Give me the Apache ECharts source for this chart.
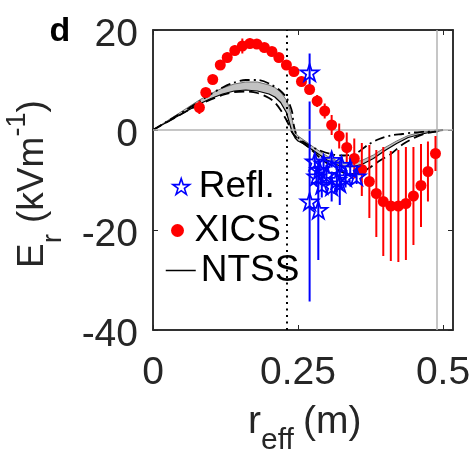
<!DOCTYPE html>
<html>
<head>
<meta charset="utf-8">
<script src="https://cdn.jsdelivr.net/npm/echarts@6/dist/echarts.min.js"></script>
<style>
  html, body { margin: 0; padding: 0; background: #fff; }
  #chart { width: 473px; height: 454px; }
</style>
</head>
<body>
<div id="chart"></div>
<script>
// ---- XICS: radius (m), Er (kV/m), error ----
const xicsR = [0.080, 0.091, 0.103, 0.116, 0.128, 0.141, 0.154, 0.167, 0.179, 0.192, 0.205,
  0.217, 0.230, 0.243, 0.256, 0.270, 0.283, 0.296, 0.308, 0.321, 0.334, 0.347, 0.360,
  0.373, 0.385, 0.397, 0.410, 0.423, 0.436, 0.449, 0.462, 0.474, 0.487];
const xicsEr = [4.5, 7.5, 10.1, 13.0, 14.5, 15.9, 16.8, 17.3, 17.2, 16.5, 15.7,
  14.5, 13.0, 11.7, 9.7, 8.1, 5.8, 3.8, 1.0, -1.2, -3.5, -5.7, -7.9,
  -10.3, -12.7, -14.3, -15.2, -15.2, -14.7, -13.2, -11.1, -8.3, -4.7];
const xicsErr = [1.3, 0.8, 0.8, 0.8, 1.0, 1.0, 1.5, 1.0, 1.0, 0.8, 0.8,
  0.8, 0.8, 1.0, 1.0, 1.0, 1.2, 1.5, 2.0, 2.5, 3.0, 4.0, 5.3,
  7.3, 8.7, 10.9, 11.0, 11.2, 11.3, 9.8, 8.3, 6.0, 3.5];

// ---- Reflectometry ----
const reflR = [0.270, 0.270, 0.285, 0.279, 0.294, 0.308, 0.325, 0.282, 0.299, 0.317,
  0.291, 0.308, 0.322, 0.340, 0.351, 0.287, 0.332];
const reflEr = [11.5, -14.3, -16.0, -6.3, -6.7, -6.0, -7.0, -9.3, -9.0, -10.0,
  -11.0, -11.3, -10.7, -7.7, -9.3, -8.0, -9.5];
const reflErr = [3.8, 20, 10, 1.5, 1.5, 1.5, 1.5, 2, 2, 2.5, 2.5, 3, 4.3, 1.5, 1.5, 2, 2];

// ---- NTSS: dash-dot run ----
const dotDashR = [0, 0.02, 0.04, 0.06, 0.08, 0.10, 0.12, 0.14, 0.16, 0.18, 0.20, 0.22, 0.23,
  0.236, 0.24, 0.243, 0.25, 0.27, 0.29, 0.31, 0.33, 0.35, 0.37, 0.39, 0.41, 0.43, 0.45,
  0.47, 0.49, 0.50];
const dotDashEr = [0, 1.4, 2.8, 4.2, 5.7, 7.2, 8.5, 9.5, 10.0, 10.0, 9.3, 7.8, 6.5,
  5.0, 3.5, 0.8, -1.5, -3.1, -4.2, -4.9, -5.1, -4.7, -3.0, -1.8, -1.1, -0.8, -0.5,
  -0.3, -0.1, 0];

// ---- NTSS: dashed run ----
const dashR = [0, 0.02, 0.04, 0.06, 0.08, 0.10, 0.12, 0.14, 0.16, 0.18, 0.20, 0.21, 0.22,
  0.23, 0.235, 0.24, 0.25, 0.27, 0.29, 0.31, 0.33, 0.35, 0.37, 0.39, 0.41, 0.43, 0.45,
  0.47, 0.49, 0.50];
const dashEr = [0, 1.3, 2.6, 3.9, 5.1, 6.1, 7.0, 7.6, 7.7, 7.4, 6.4, 5.5, 4.0,
  2.0, 0.8, -0.5, -1.8, -3.6, -5.8, -7.3, -8.6, -8.8, -7.8, -6.2, -4.8, -2.9, -1.6,
  -0.7, -0.3, 0];

// ---- NTSS: uncertainty band (upper / lower); the lower edge is the solid NTSS curve ----
const bandR = [0, 0.02, 0.04, 0.06, 0.08, 0.10, 0.12, 0.14, 0.16, 0.18, 0.20, 0.21, 0.22,
  0.23, 0.235, 0.24, 0.245, 0.25, 0.26, 0.28, 0.30, 0.32, 0.34, 0.36, 0.38, 0.40, 0.42,
  0.44, 0.46, 0.48, 0.50];
const bandUp = [0, 1.5, 3.0, 4.5, 6.0, 7.3, 8.4, 9.2, 9.6, 9.6, 9.0, 8.5, 7.6,
  6.0, 4.5, 2.0, -0.5, -1.2, -2.0, -3.7, -5.2, -6.3, -6.6, -6.1, -5.0, -3.5, -2.2,
  -1.1, -0.5, -0.2, 0];
const bandLo = [0, 1.3, 2.6, 3.9, 5.2, 6.3, 7.2, 7.8, 8.0, 7.8, 7.2, 6.6, 5.5,
  3.5, 1.5, -0.5, -1.6, -2.2, -2.8, -4.4, -6.0, -7.1, -7.4, -6.9, -5.7, -4.1, -2.7,
  -1.5, -0.9, -0.4, 0];

// ---- axes ----
const xTicks = [0, 0.25, 0.5];
const xTickText = ['0', '0.25', '0.5'];
const yTicks = [-40, -20, 0, 20];
const xMax = 0.5172;
const dottedAt = 0.235;   // dotted reference radius
const edgeAt = 0.489;     // gray reference radius

const FONT = '"Liberation Sans", Arial, Helvetica, sans-serif';
const INK = '#262626';
const STAR = 'path://M50 0 L61.2 34.5 L97.6 34.5 L68.2 55.9 L79.4 90.5 L50 69.1 L20.6 90.5 L31.8 55.9 L2.4 34.5 L38.8 34.5 Z';

const zip = (a, b) => a.map((v, i) => [v, b[i]]);
const zip3 = (a, b, c) => a.map((v, i) => [v, b[i], c[i]]);

function errBar(color, width) {
  return function (params, api) {
    const x = api.value(0), y = api.value(1), e = api.value(2);
    const p = api.coord([x, y + e]);
    const q = api.coord([x, y - e]);
    return {
      type: 'line',
      shape: { x1: p[0], y1: p[1], x2: q[0], y2: q[1] },
      style: { stroke: color, lineWidth: width }
    };
  };
}

function bandItem(params, api) {
  const up = bandR.map((r, i) => api.coord([r, bandUp[i]]));
  const lo = bandR.map((r, i) => api.coord([r, bandLo[i]]));
  return {
    type: 'group',
    children: [
      { type: 'polygon', shape: { points: up.concat(lo.slice().reverse()) },
        style: { fill: '#c2c2c2', stroke: 'none' } },
      { type: 'polyline', shape: { points: up },
        style: { fill: 'none', stroke: '#6e6e6e', lineWidth: 1 } }
    ]
  };
}

const axisLine = { show: true, onZero: false, lineStyle: { color: INK, width: 1.5 } };
const tickStyle = { show: true, inside: true, length: 5, lineStyle: { color: INK, width: 1 } };

const legendText = { fontSize: 37, fontFamily: FONT, color: '#000' };

const option = {
  animation: false,
  backgroundColor: '#fff',
  grid: { left: 153, top: 30, width: 300, height: 300, containLabel: false, outerBoundsMode: 'none',
    show: true, backgroundColor: 'rgba(0,0,0,0)', borderColor: INK, borderWidth: 1.5 },
  xAxis: [
    { type: 'value', show: true, position: 'bottom', min: 0, max: xMax,
      axisLine, axisTick: Object.assign({ customValues: xTicks }, tickStyle),
      splitLine: { show: false },
      axisLabel: { customValues: xTicks, margin: 24, fontSize: 39, fontFamily: FONT, color: INK,
        formatter: v => { const i = xTicks.findIndex(t => Math.abs(t - v) < 1e-6); return i < 0 ? '' : xTickText[i]; } } },
    { type: 'value', show: true, position: 'top', min: 0, max: xMax,
      axisLine, axisTick: Object.assign({ customValues: xTicks }, tickStyle),
      splitLine: { show: false }, axisLabel: { show: false } }
  ],
  yAxis: [
    { type: 'value', show: true, position: 'left', min: -40, max: 20, interval: 20,
      axisLine, axisTick: tickStyle, splitLine: { show: false },
      axisLabel: { customValues: yTicks, margin: 15, fontSize: 39, fontFamily: FONT, color: INK,
        verticalAlign: 'top', lineHeight: 10 } },
    { type: 'value', show: true, position: 'right', min: -40, max: 20, interval: 20,
      axisLine, axisTick: tickStyle, splitLine: { show: false }, axisLabel: { show: false } }
  ],
  legend: [
    { data: ['Refl.'], left: 172, top: 168, orient: 'horizontal', padding: 0,
      itemWidth: 25, itemHeight: 16, selectedMode: false, textStyle: legendText,
      itemStyle: { color: 'rgba(0,0,0,0)', borderColor: '#0000ff', borderWidth: 1.6 } },
    { data: ['XICS'], left: 171, top: 212, orient: 'horizontal', padding: 0,
      itemWidth: 24, itemHeight: 13, selectedMode: false, textStyle: legendText },
    { data: ['NTSS'], left: 165, top: 252, orient: 'horizontal', padding: 0,
      itemWidth: 30, itemHeight: 14, selectedMode: false, textStyle: legendText,
      itemStyle: { opacity: 0 },
      lineStyle: { color: '#000', width: 1.5, type: 'solid', opacity: 1 } }
  ],
  series: [
    { name: 'band', type: 'custom', renderItem: bandItem, data: [[0, 0]], z: 2, silent: true,
      markLine: {
        silent: true, symbol: ['none', 'none'], label: { show: false }, animation: false,
        data: [
          { yAxis: 0, lineStyle: { color: '#b3b3b3', width: 1.5, type: 'solid' } },
          { xAxis: edgeAt, lineStyle: { color: '#b3b3b3', width: 1.5, type: 'solid' } },
          { xAxis: dottedAt, lineStyle: { color: '#000', width: 2, type: [2, 4.5] } }
        ]
      } },
    { name: 'NTSS', type: 'line', data: zip(bandR, bandLo), smooth: false, symbol: 'none', z: 3,
      color: '#000', lineStyle: { color: '#000', width: 1.2, type: 'solid' } },
    { name: 'NTSS dash-dot', type: 'line', data: zip(dotDashR, dotDashEr), smooth: 0.3, symbol: 'none', z: 3,
      lineStyle: { color: '#000', width: 1.8, type: [10, 4, 2, 4] } },
    { name: 'NTSS dashed', type: 'line', data: zip(dashR, dashEr), smooth: 0.3, symbol: 'none', z: 3,
      lineStyle: { color: '#000', width: 1.8, type: [10, 5] } },
    { name: 'Refl. err', type: 'custom', renderItem: errBar('#0000ff', 2), z: 4, silent: true,
      encode: { x: 0, y: 1 }, data: zip3(reflR, reflEr, reflErr) },
    { name: 'XICS err', type: 'custom', renderItem: errBar('#ff0000', 2), z: 5, silent: true,
      encode: { x: 0, y: 1 }, data: zip3(xicsR, xicsEr, xicsErr) },
    { name: 'XICS', type: 'scatter', data: zip(xicsR, xicsEr), symbol: 'circle', symbolSize: 11, z: 6,
      itemStyle: { color: '#ff0000', opacity: 1 } },
    { name: 'Refl.', type: 'scatter', data: zip(reflR, reflEr), symbol: STAR, symbolSize: 18,
      symbolKeepAspect: true, z: 7,
      itemStyle: { color: 'rgba(0,0,0,0)', borderColor: '#0000ff', borderWidth: 1.7, opacity: 1 } }
  ],
  graphic: [
    { type: 'text', x: 60, y: 32, z: 10,
      style: { text: 'd', font: 'bold 34px ' + FONT, fill: '#000',
        align: 'center', verticalAlign: 'middle', textAlign: 'center', textVerticalAlign: 'middle' } },
    // x-axis title: r_eff (m)
    { type: 'text', x: 248, y: 422, z: 10,
      style: { text: 'r', font: '39px ' + FONT, fill: INK,
        align: 'left', verticalAlign: 'middle', textAlign: 'left', textVerticalAlign: 'middle' } },
    { type: 'text', x: 261, y: 441, z: 10,
      style: { text: 'eff', font: '30px ' + FONT, fill: INK,
        align: 'left', verticalAlign: 'middle', textAlign: 'left', textVerticalAlign: 'middle' } },
    { type: 'text', x: 303, y: 422, z: 10,
      style: { text: '(m)', font: '39px ' + FONT, fill: INK,
        align: 'left', verticalAlign: 'middle', textAlign: 'left', textVerticalAlign: 'middle' } },
    // y-axis title: E_r (kVm^-1), rotated
    { type: 'group', x: 32.5, y: 268, rotation: Math.PI / 2, z: 10,
      children: [
        { type: 'text', x: 0, y: 0, style: { text: 'E', font: '37px ' + FONT, fill: INK,
          align: 'left', verticalAlign: 'middle', textAlign: 'left', textVerticalAlign: 'middle' } },
        { type: 'text', x: 25, y: 21, style: { text: 'r', font: '27px ' + FONT, fill: INK,
          align: 'left', verticalAlign: 'middle', textAlign: 'left', textVerticalAlign: 'middle' } },
        { type: 'text', x: 45, y: 0, style: { text: '(kVm', font: '37px ' + FONT, fill: INK,
          align: 'left', verticalAlign: 'middle', textAlign: 'left', textVerticalAlign: 'middle' } },
        { type: 'text', x: 131.5, y: -15, style: { text: '-1', font: '27px ' + FONT, fill: INK,
          align: 'left', verticalAlign: 'middle', textAlign: 'left', textVerticalAlign: 'middle' } },
        { type: 'text', x: 155.5, y: 0, style: { text: ')', font: '37px ' + FONT, fill: INK,
          align: 'left', verticalAlign: 'middle', textAlign: 'left', textVerticalAlign: 'middle' } }
      ] }
  ]
};

const chart = echarts.init(document.getElementById('chart'), null, { renderer: 'canvas' });
chart.setOption(option);
</script>
</body>
</html>
